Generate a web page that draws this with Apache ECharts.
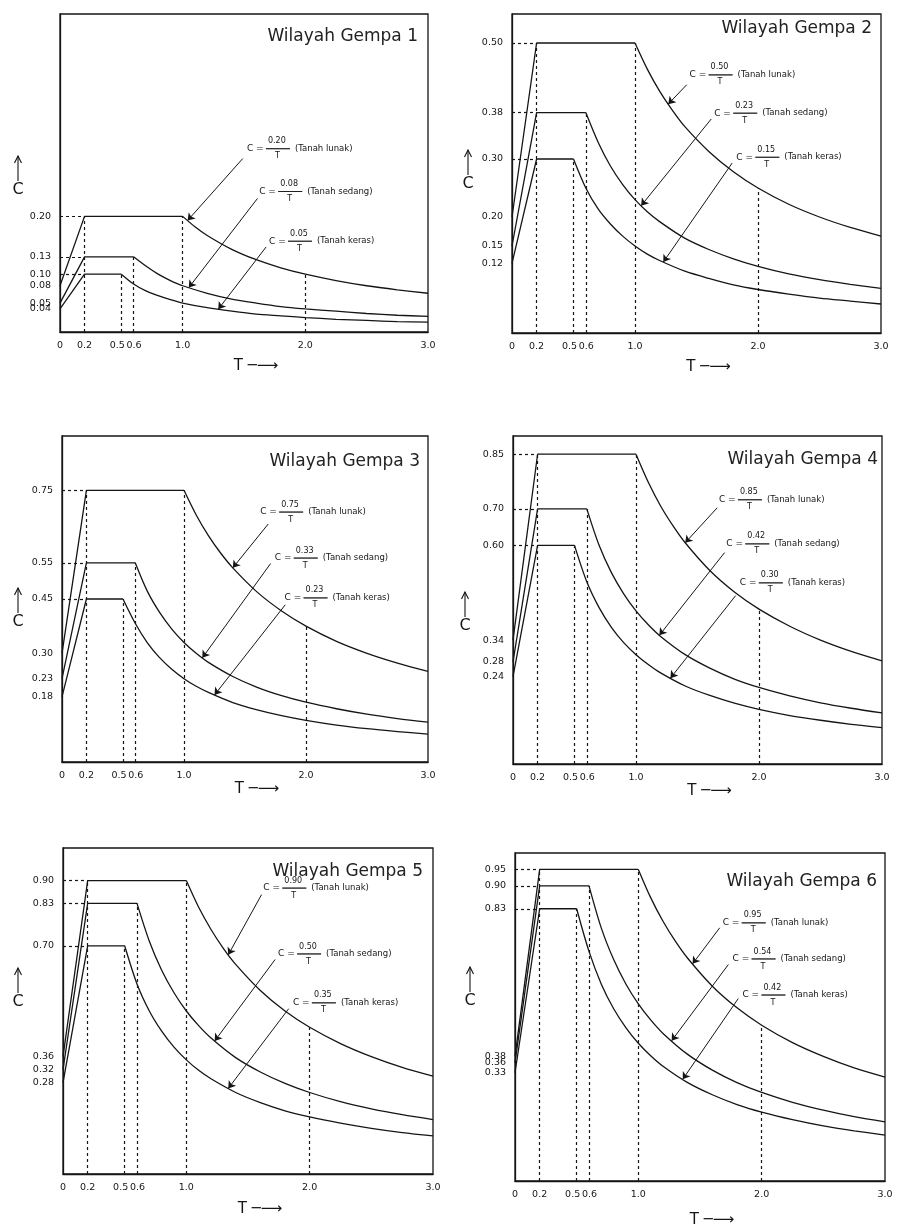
<!DOCTYPE html>
<html><head><meta charset="utf-8">
<script src="https://cdn.jsdelivr.net/npm/echarts@6/dist/echarts.min.js"></script>
<style>html,body{margin:0;padding:0;background:#fff}#c{width:897px;height:1230px}</style>
</head><body><div id="c"></div>
<script>
// ---------- DATA ----------
const xTicks = [0, 0.2, 0.5, 0.6, 1.0, 2.0, 3.0];
const titles = ['Wilayah Gempa 1', 'Wilayah Gempa 2', 'Wilayah Gempa 3', 'Wilayah Gempa 4', 'Wilayah Gempa 5', 'Wilayah Gempa 6'];
const soilNames = ['Tanah lunak', 'Tanah sedang', 'Tanah keras'];
const yMax = [0.55, 0.55, 0.9, 0.9, 1.0, 1.0];

const yTicks1 = [0.04, 0.05, 0.08, 0.10, 0.13, 0.20];
const yTicks2 = [0.12, 0.15, 0.20, 0.30, 0.38, 0.50];
const yTicks3 = [0.18, 0.23, 0.30, 0.45, 0.55, 0.75];
const yTicks4 = [0.24, 0.28, 0.34, 0.60, 0.70, 0.85];
const yTicks5 = [0.28, 0.32, 0.36, 0.70, 0.83, 0.90];
const yTicks6 = [0.33, 0.36, 0.38, 0.83, 0.90, 0.95];

// numerators of C = A/T  [lunak, sedang, keras]
const numer1 = [0.20, 0.08, 0.05];
const numer2 = [0.50, 0.23, 0.15];
const numer3 = [0.75, 0.33, 0.23];
const numer4 = [0.85, 0.42, 0.30];
const numer5 = [0.90, 0.50, 0.35];
const numer6 = [0.95, 0.54, 0.42];

// [T, C] points: start, ramp end, plateau end, descending branch
const w1Lunak  = [[0,0.08],[0.2,0.20],[1.0,0.20],[1.1,0.182],[1.2,0.167],[1.4,0.143],[1.6,0.125],[1.8,0.111],[2.0,0.100],[2.25,0.089],[2.5,0.080],[2.75,0.073],[3.0,0.067]];
const w1Sedang = [[0,0.05],[0.2,0.13],[0.6,0.13],[0.7,0.114],[0.8,0.100],[0.9,0.089],[1.0,0.080],[1.2,0.067],[1.4,0.057],[1.6,0.050],[1.8,0.044],[2.0,0.040],[2.25,0.036],[2.5,0.032],[2.75,0.029],[3.0,0.027]];
const w1Keras  = [[0,0.04],[0.2,0.10],[0.5,0.10],[0.6,0.083],[0.7,0.071],[0.8,0.063],[0.9,0.056],[1.0,0.050],[1.2,0.042],[1.4,0.036],[1.6,0.031],[1.8,0.028],[2.0,0.025],[2.25,0.022],[2.5,0.020],[2.75,0.018],[3.0,0.017]];

const w2Lunak  = [[0,0.20],[0.2,0.50],[1.0,0.50],[1.1,0.455],[1.2,0.417],[1.3,0.385],[1.4,0.357],[1.6,0.313],[1.8,0.278],[2.0,0.250],[2.25,0.222],[2.5,0.200],[2.75,0.182],[3.0,0.167]];
const w2Sedang = [[0,0.15],[0.2,0.38],[0.6,0.38],[0.7,0.329],[0.8,0.288],[0.9,0.256],[1.0,0.230],[1.1,0.209],[1.2,0.192],[1.4,0.164],[1.6,0.144],[1.8,0.128],[2.0,0.115],[2.25,0.102],[2.5,0.092],[2.75,0.084],[3.0,0.077]];
const w2Keras  = [[0,0.12],[0.2,0.30],[0.5,0.30],[0.6,0.250],[0.7,0.214],[0.8,0.188],[0.9,0.167],[1.0,0.150],[1.1,0.136],[1.2,0.125],[1.4,0.107],[1.6,0.094],[1.8,0.083],[2.0,0.075],[2.25,0.067],[2.5,0.060],[2.75,0.055],[3.0,0.050]];

const w3Lunak  = [[0,0.30],[0.2,0.75],[1.0,0.75],[1.1,0.682],[1.2,0.625],[1.3,0.577],[1.4,0.536],[1.6,0.469],[1.8,0.417],[2.0,0.375],[2.25,0.333],[2.5,0.300],[2.75,0.273],[3.0,0.250]];
const w3Sedang = [[0,0.23],[0.2,0.55],[0.6,0.55],[0.7,0.471],[0.8,0.413],[0.9,0.367],[1.0,0.330],[1.1,0.300],[1.2,0.275],[1.4,0.236],[1.6,0.206],[1.8,0.183],[2.0,0.165],[2.25,0.147],[2.5,0.132],[2.75,0.120],[3.0,0.110]];
const w3Keras  = [[0,0.18],[0.2,0.45],[0.5,0.45],[0.6,0.383],[0.7,0.329],[0.8,0.288],[0.9,0.256],[1.0,0.230],[1.1,0.209],[1.2,0.192],[1.4,0.164],[1.6,0.144],[1.8,0.128],[2.0,0.115],[2.25,0.102],[2.5,0.092],[2.75,0.084],[3.0,0.077]];

const w4Lunak  = [[0,0.34],[0.2,0.85],[1.0,0.85],[1.1,0.773],[1.2,0.708],[1.3,0.654],[1.4,0.607],[1.6,0.531],[1.8,0.472],[2.0,0.425],[2.25,0.378],[2.5,0.340],[2.75,0.309],[3.0,0.283]];
const w4Sedang = [[0,0.28],[0.2,0.70],[0.6,0.70],[0.7,0.600],[0.8,0.525],[0.9,0.467],[1.0,0.420],[1.1,0.382],[1.2,0.350],[1.4,0.300],[1.6,0.263],[1.8,0.233],[2.0,0.210],[2.25,0.187],[2.5,0.168],[2.75,0.153],[3.0,0.140]];
const w4Keras  = [[0,0.24],[0.2,0.60],[0.5,0.60],[0.6,0.500],[0.7,0.429],[0.8,0.375],[0.9,0.333],[1.0,0.300],[1.1,0.273],[1.2,0.250],[1.4,0.214],[1.6,0.188],[1.8,0.167],[2.0,0.150],[2.25,0.133],[2.5,0.120],[2.75,0.109],[3.0,0.100]];

const w5Lunak  = [[0,0.36],[0.2,0.90],[1.0,0.90],[1.1,0.818],[1.2,0.750],[1.3,0.692],[1.4,0.643],[1.6,0.563],[1.8,0.500],[2.0,0.450],[2.25,0.400],[2.5,0.360],[2.75,0.327],[3.0,0.300]];
const w5Sedang = [[0,0.32],[0.2,0.83],[0.6,0.83],[0.7,0.714],[0.8,0.625],[0.9,0.556],[1.0,0.500],[1.1,0.455],[1.2,0.417],[1.4,0.357],[1.6,0.313],[1.8,0.278],[2.0,0.250],[2.25,0.222],[2.5,0.200],[2.75,0.182],[3.0,0.167]];
const w5Keras  = [[0,0.28],[0.2,0.70],[0.5,0.70],[0.6,0.583],[0.7,0.500],[0.8,0.438],[0.9,0.389],[1.0,0.350],[1.1,0.318],[1.2,0.292],[1.4,0.250],[1.6,0.219],[1.8,0.194],[2.0,0.175],[2.25,0.156],[2.5,0.140],[2.75,0.127],[3.0,0.117]];

const w6Lunak  = [[0,0.38],[0.2,0.95],[1.0,0.95],[1.1,0.864],[1.2,0.792],[1.3,0.731],[1.4,0.679],[1.6,0.594],[1.8,0.528],[2.0,0.475],[2.25,0.422],[2.5,0.380],[2.75,0.345],[3.0,0.317]];
const w6Sedang = [[0,0.36],[0.2,0.90],[0.6,0.90],[0.7,0.771],[0.8,0.675],[0.9,0.600],[1.0,0.540],[1.1,0.491],[1.2,0.450],[1.4,0.386],[1.6,0.338],[1.8,0.300],[2.0,0.270],[2.25,0.240],[2.5,0.216],[2.75,0.196],[3.0,0.180]];
const w6Keras  = [[0,0.33],[0.2,0.83],[0.5,0.83],[0.6,0.700],[0.7,0.600],[0.8,0.525],[0.9,0.467],[1.0,0.420],[1.1,0.382],[1.2,0.350],[1.4,0.300],[1.6,0.263],[1.8,0.233],[2.0,0.210],[2.25,0.187],[2.5,0.168],[2.75,0.153],[3.0,0.140]];

// ---------- LAYOUT (positions / styles) ----------
const layout = [
  {grid:[60,14,368,318],  title:[418,37],  yName:[18,156],  nameGap:27},
  {grid:[512,14,369,319], title:[872,29],  yName:[468,150], nameGap:27},
  {grid:[62,436,366,326], title:[420,462], yName:[18,588],  nameGap:20},
  {grid:[513,436,369,328],title:[878,460], yName:[465,592], nameGap:19},
  {grid:[63,848,370,326], title:[423,872], yName:[18,968],  nameGap:28},
  {grid:[515,853,370,328],title:[877,882], yName:[470,967], nameGap:32}
];
// annotation label anchor, arrow start, arrow end T
const annLayout = [
  [{a:[1.52,0.317],s:[1.49,0.300],e:1.04},{a:[1.62,0.243],s:[1.61,0.231],e:1.05},{a:[1.70,0.157],s:[1.68,0.147],e:1.29}],
  [{a:[1.44,0.445],s:[1.42,0.428],e:1.27},{a:[1.64,0.379],s:[1.62,0.369],e:1.05},{a:[1.82,0.303],s:[1.79,0.293],e:1.23}],
  [{a:[1.62,0.69],s:[1.69,0.657],e:1.40},{a:[1.74,0.563],s:[1.71,0.548],e:1.15},{a:[1.82,0.453],s:[1.83,0.434],e:1.25}],
  [{a:[1.67,0.725],s:[1.66,0.703],e:1.40},{a:[1.73,0.604],s:[1.72,0.580],e:1.19},{a:[1.84,0.497],s:[1.81,0.462],e:1.28}],
  [{a:[1.62,0.877],s:[1.61,0.857],e:1.34},{a:[1.74,0.675],s:[1.72,0.658],e:1.23},{a:[1.86,0.525],s:[1.83,0.507],e:1.34}],
  [{a:[1.68,0.787],s:[1.66,0.772],e:1.44},{a:[1.76,0.677],s:[1.73,0.660],e:1.27},{a:[1.84,0.567],s:[1.81,0.556],e:1.36}]
];

const panels = [
  {curves:[w1Lunak,w1Sedang,w1Keras], yTicks:yTicks1, numer:numer1},
  {curves:[w2Lunak,w2Sedang,w2Keras], yTicks:yTicks2, numer:numer2},
  {curves:[w3Lunak,w3Sedang,w3Keras], yTicks:yTicks3, numer:numer3},
  {curves:[w4Lunak,w4Sedang,w4Keras], yTicks:yTicks4, numer:numer4},
  {curves:[w5Lunak,w5Sedang,w5Keras], yTicks:yTicks5, numer:numer5},
  {curves:[w6Lunak,w6Sedang,w6Keras], yTicks:yTicks6, numer:numer6}
];

const INK = '#151515';
const FONT = '"DejaVu Sans", Verdana, sans-serif';

function yAt(curve, t) {
  for (let k = 0; k < curve.length - 1; k++) {
    const [x0, y0] = curve[k], [x1, y1] = curve[k + 1];
    if (t >= x0 && t <= x1) return y0 + (y1 - y0) * (t - x0) / (x1 - x0);
  }
  return curve[curve.length - 1][1];
}

const grids = [], xAxes = [], yAxes = [], series = [], graphics = [];

panels.forEach((p, i) => {
  const L = layout[i];
  grids.push({left:L.grid[0], top:L.grid[1], width:L.grid[2], height:L.grid[3],
    show:true, borderColor:INK, borderWidth:1.3, backgroundColor:'transparent'});
  xAxes.push({type:'value', gridIndex:i, min:0, max:3,
    axisLine:{show:true, onZero:false, lineStyle:{color:INK, width:1.3}},
    axisTick:{show:false}, splitLine:{show:false},
    axisLabel:{customValues:xTicks, margin:9, color:INK, fontSize:9.5, fontFamily:FONT, hideOverlap:false,
      showMinLabel:true, showMaxLabel:true,
      formatter:v => v === 0 ? '0' : (v === 0.5 ? '{l|0.5}' : (v === 0.6 ? '{r|0.6}' : v.toFixed(1))),
      rich:{l:{padding:[0,8,0,0], fontSize:9.5, fontFamily:FONT, color:INK},
            r:{padding:[0,0,0,1], fontSize:9.5, fontFamily:FONT, color:INK}}},
    name:'T \u2500\u27F6', nameLocation:'middle', nameGap:L.nameGap,
    nameTextStyle:{fontSize:15, color:INK, fontFamily:FONT, padding:[0,0,0,24]}
  });
  // two stacked left axes share the tick labels (alternating) so close labels are all kept
  [0, 1].forEach(part => {
    yAxes.push({type:'value', gridIndex:i, min:0, max:yMax[i], position:'left', offset:0,
      axisLine:{show:part === 0, onZero:false, lineStyle:{color:INK, width:1.3}},
      axisTick:{show:false}, splitLine:{show:false},
      axisLabel:{customValues:p.yTicks.filter((v, j) => j % 2 === part), margin:9, color:INK,
        fontSize:9.5, fontFamily:FONT, hideOverlap:false, showMinLabel:true, showMaxLabel:true,
        formatter:v => v.toFixed(2)}
    });
  });
  const yIdx = 2 * i;

  // guide dashed lines
  const guides = [];
  let maxPeak = 0;
  p.curves.forEach(c => {
    const peak = c[1][1], tc = c[2][0];
    maxPeak = Math.max(maxPeak, peak);
    guides.push([{coord:[0, peak]}, {coord:[c[1][0], peak]}]);
    guides.push([{coord:[tc, 0]}, {coord:[tc, peak]}]);
  });
  guides.push([{coord:[p.curves[0][1][0], 0]}, {coord:[p.curves[0][1][0], maxPeak]}]);
  guides.push([{coord:[2.0, 0]}, {coord:[2.0, yAt(p.curves[0], 2.0)]}]);

  // arrows
  const arrows = annLayout[i].map((a, k) => [
    {coord:a.s, symbol:'none'},
    {coord:[a.e, yAt(p.curves[k], a.e)], symbol:'arrow'}
  ]);

  // labels (fraction C = A / T)
  const labels = annLayout[i].map((a, k) => ({
    coord:a.a,
    label:{formatter:`{s1|}{n|${p.numer[k].toFixed(2)}}\n{c|C =}{bar|}{t|(${soilNames[k]})}\n{s2|}{n|T}`}
  }));

  p.curves.forEach((c, k) => {
    const straight = {type:'line', xAxisIndex:i, yAxisIndex:yIdx, data:c.slice(0, 3),
      symbol:'none', silent:true, lineStyle:{color:INK, width:1.3}};
    const curved = {type:'line', xAxisIndex:i, yAxisIndex:yIdx, data:c.slice(2),
      symbol:'none', silent:true, smooth:0.3, lineStyle:{color:INK, width:1.3}};
    if (k === 0) {
      straight.markLine = {silent:true, symbol:['none','none'], label:{show:false},
        lineStyle:{color:INK, width:1.2, type:[3,3]}, data:guides, animation:false};
      curved.markLine = {silent:true, symbolSize:7, label:{show:false},
        lineStyle:{color:INK, width:1, type:'solid'}, data:arrows, animation:false};
      curved.markPoint = {silent:true, symbol:'circle', symbolSize:1,
        itemStyle:{color:'rgba(0,0,0,0)'}, data:labels, animation:false,
        label:{show:true, position:'right', distance:0, color:INK, fontFamily:FONT, align:'left',
          rich:{
            s1:{width:21, fontSize:8, lineHeight:7},
            s2:{width:28, fontSize:8, lineHeight:7},
            n:{fontSize:8, lineHeight:7, fontFamily:FONT, color:INK},
            c:{width:19, fontSize:9, lineHeight:8, fontFamily:FONT, color:INK},
            bar:{width:24, height:0, borderColor:INK, borderWidth:0.8},
            t:{fontSize:8.5, lineHeight:8, padding:[0,0,0,5], fontFamily:FONT, color:INK}
          }}
      };
    }
    series.push(straight, curved);
  });

  // title
  graphics.push({type:'text', x:L.title[0], y:L.title[1], silent:true,
    style:{text:titles[i], fill:'#222', font:`17px ${FONT}`, textAlign:'right', textVerticalAlign:'middle'}});
  // y axis name: arrow + C
  const [ax, ay] = L.yName;
  graphics.push({type:'line', silent:true, shape:{x1:ax, y1:ay, x2:ax, y2:ay+25}, style:{stroke:INK, lineWidth:1.1}});
  graphics.push({type:'polyline', silent:true, shape:{points:[[ax-3.5, ay+7],[ax, ay],[ax+3.5, ay+7]]}, style:{stroke:INK, lineWidth:1.1, fill:null}});
  graphics.push({type:'text', x:ax, y:ay+34, silent:true,
    style:{text:'C', fill:INK, font:`16px ${FONT}`, textAlign:'center', textVerticalAlign:'middle'}});
});

const chart = echarts.init(document.getElementById('c'), null, {renderer:'canvas'});
chart.setOption({
  backgroundColor:'#fff',
  animation:false,
  grid:grids, xAxis:xAxes, yAxis:yAxes, series:series, graphic:graphics
});
</script>
</body></html>
